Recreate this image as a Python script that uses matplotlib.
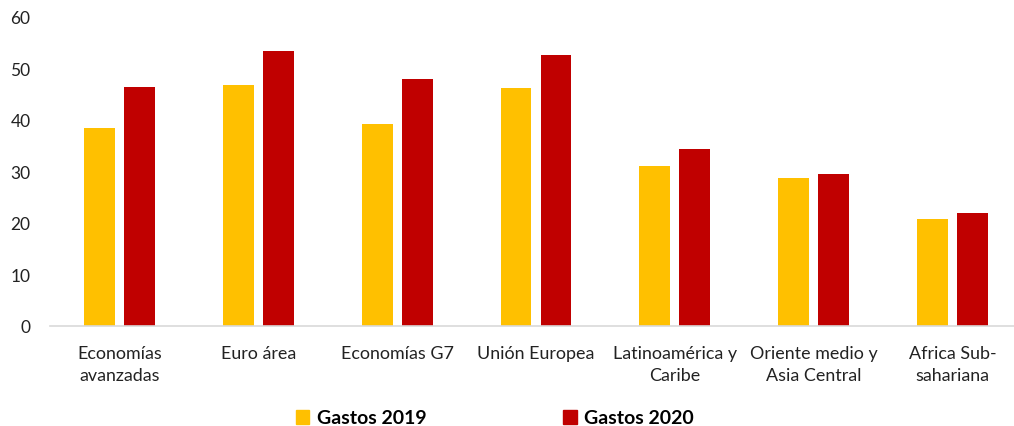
import numpy as np
import matplotlib
matplotlib.use('Agg')
import matplotlib.pyplot as plt
from matplotlib.patches import Patch

# Datos (% del PIB)
categorias = ['Economías\navanzadas', 'Euro área', 'Economías G7', 'Unión Europea',
              'Latinoamérica y\nCaribe', 'Oriente medio y\nAsia Central', 'Africa Sub-\nsahariana']
gastos_2019 = [38.4, 46.8, 39.2, 46.2, 31.1, 28.7, 20.8]
gastos_2020 = [46.4, 53.4, 48.0, 52.6, 34.4, 29.5, 21.9]
yticks = [0, 10, 20, 30, 40, 50, 60]

plt.rcParams['font.family'] = ['Lato', 'DejaVu Sans']

fig = plt.figure(figsize=(10.14, 4.27), dpi=100)
# el eje se sale un poco por la derecha, como en el original
ax = fig.add_axes([50 / 1014, 100 / 427, 972 / 1014, 309 / 427])

x = np.arange(len(categorias))
ancho = 0.223
ax.bar(x - 0.144, gastos_2019, ancho, color='#FFC000', label='Gastos 2019')
ax.bar(x + 0.144, gastos_2020, ancho, color='#C00000', label='Gastos 2020')

ax.set_xlim(-0.5, len(categorias) - 0.5)
ax.set_ylim(0, 60)
ax.set_yticks(yticks)
ax.set_xticks(x)
ax.set_xticklabels(categorias, fontsize=12.9, color='#222222', linespacing=1.45)
ax.tick_params(axis='y', labelsize=12.5, labelcolor='#222222', length=0, pad=14)
ax.tick_params(axis='x', length=0, pad=14)

for s in ['top', 'right', 'left']:
    ax.spines[s].set_visible(False)
ax.spines['bottom'].set_color('#d9d9d9')
ax.spines['bottom'].set_linewidth(1.2)

handles = [Patch(color='#FFC000', label='Gastos 2019'),
           Patch(color='#C00000', label='Gastos 2020')]
fig.legend(handles=handles, loc='center', bbox_to_anchor=(495 / 1014, 1 - 419 / 427),
           ncol=2, frameon=False, prop={'weight': 'bold', 'size': 14},
           handlelength=0.7, handleheight=0.7, handletextpad=0.4, columnspacing=7.0)

fig.savefig('out.png', dpi=100)
